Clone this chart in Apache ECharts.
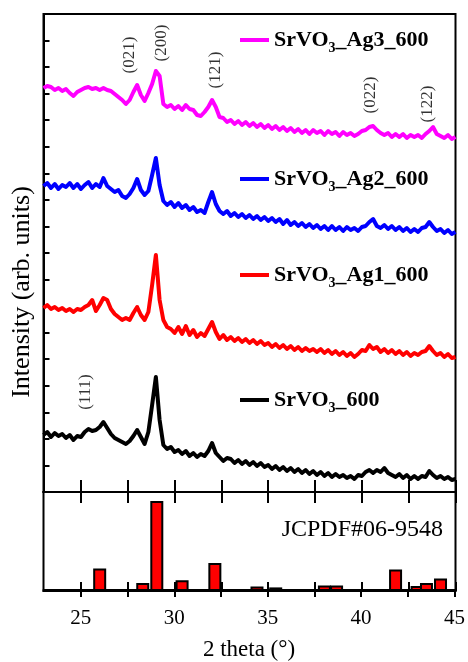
<!DOCTYPE html>
<html>
<head>
<meta charset="utf-8">
<script src="https://cdn.jsdelivr.net/npm/echarts@6/dist/echarts.min.js"></script>
<style>
html, body { margin: 0; padding: 0; background: #fff; }
#xrdChart { width: 468px; height: 662px; }
</style>
</head>
<body>
<div id="xrdChart"></div>
<script>
// 2 theta sampling points (deg)
var theta = [
	23.0, 23.2, 23.4, 23.6, 23.8, 24.0, 24.2, 24.4, 24.6, 24.8,
	25.0, 25.2, 25.4, 25.6, 25.8, 26.0, 26.2, 26.4, 26.6, 26.8,
	27.0, 27.2, 27.4, 27.6, 27.8, 28.0, 28.2, 28.4, 28.6, 28.8,
	29.0, 29.2, 29.4, 29.6, 29.8, 30.0, 30.2, 30.4, 30.6, 30.8,
	31.0, 31.2, 31.4, 31.6, 31.8, 32.0, 32.2, 32.4, 32.6, 32.8,
	33.0, 33.2, 33.4, 33.6, 33.8, 34.0, 34.2, 34.4, 34.6, 34.8,
	35.0, 35.2, 35.4, 35.6, 35.8, 36.0, 36.2, 36.4, 36.6, 36.8,
	37.0, 37.2, 37.4, 37.6, 37.8, 38.0, 38.2, 38.4, 38.6, 38.8,
	39.0, 39.2, 39.4, 39.6, 39.8, 40.0, 40.2, 40.4, 40.6, 40.8,
	41.0, 41.2, 41.4, 41.6, 41.8, 42.0, 42.2, 42.4, 42.6, 42.8,
	43.0, 43.2, 43.4, 43.6, 43.8, 44.0, 44.2, 44.4, 44.6, 44.8, 45.0
];
// offset intensities (arb. units)
var srvo600 = [
	57, 60, 55, 59, 56, 58, 54, 57, 52, 56,
	55, 60, 63, 61, 62, 65, 70, 64, 58, 54,
	52, 50, 48, 51, 56, 62, 55, 48, 60, 87,
	115, 72, 47, 43, 45, 40, 42, 38, 41, 36,
	39, 35, 38, 36, 41, 49, 39, 35, 31, 34,
	33, 29, 32, 28, 31, 27, 30, 26, 29, 25,
	27, 23, 26, 22, 25, 21, 24, 20, 23, 19,
	22, 18, 21, 17, 20, 16, 19, 15, 18, 15,
	17, 14, 16, 13, 17, 16, 20, 22, 19, 22,
	20, 24, 19, 17, 15, 18, 14, 17, 13, 16,
	13, 16, 15, 21, 17, 14, 16, 13, 15, 12, 13
];
var srvoAg1 = [
	184, 187, 183, 185, 182, 184, 181, 183, 180, 183,
	182, 185, 187, 192, 181, 187, 194, 192, 183, 178,
	175, 172, 174, 172, 179, 185, 177, 172, 180, 207,
	237, 192, 172, 165, 163, 159, 165, 158, 166, 157,
	162, 155, 159, 156, 163, 170, 160, 153, 157, 152,
	155, 151, 154, 150, 153, 149, 152, 148, 151, 147,
	149, 145, 148, 144, 147, 143, 146, 142, 145, 141,
	144, 141, 143, 140, 143, 139, 142, 138, 141, 137,
	140, 136, 139, 135, 138, 142, 141, 147, 143, 145,
	140, 143, 139, 142, 138, 141, 137, 140, 136, 139,
	137, 140, 141, 146, 141, 137, 139, 135, 138, 134, 135
];
var srvoAg2 = [
	306, 309, 304, 308, 303, 307, 305, 309, 304, 308,
	303, 307, 310, 304, 308, 305, 314, 306, 303, 300,
	302, 296, 294, 298, 304, 313, 302, 297, 301, 317,
	334, 307, 291, 287, 290, 285, 289, 284, 287, 282,
	285, 280, 282, 279, 290, 300, 288, 281, 278, 281,
	276, 279, 275, 278, 274, 277, 273, 276, 272, 275,
	271, 274, 270, 273, 268, 272, 267, 270, 266, 269,
	265, 268, 264, 267, 263, 266, 262, 266, 262, 265,
	261, 265, 262, 264, 261, 265, 266, 270, 273, 266,
	264, 267, 263, 266, 262, 265, 261, 264, 260, 263,
	260, 264, 265, 270, 265, 261, 263, 259, 262, 258, 260
];
var srvoAg3 = [
	404, 406, 405, 402, 404, 401, 403, 399, 396, 400,
	402, 404, 405, 403, 404, 402, 404, 402, 401, 398,
	395, 392, 388, 392, 400, 407, 397, 391, 399, 408,
	421, 416, 388, 385, 387, 383, 386, 382, 387, 383,
	382, 377, 376, 380, 385, 392, 385, 375, 374, 370,
	372, 368, 371, 367, 370, 366, 369, 365, 368, 364,
	367, 363, 366, 362, 365, 361, 364, 360, 363, 359,
	362, 358, 362, 359, 361, 357, 361, 358, 360, 356,
	360, 357, 359, 356, 358, 361, 362, 365, 366, 362,
	359, 357, 359, 355, 358, 355, 358, 354, 357, 355,
	357, 354, 358, 361, 365, 358, 356, 354, 357, 353, 355
];
var seriesNames = ['SrVO3_Ag3_600', 'SrVO3_Ag2_600', 'SrVO3_Ag1_600', 'SrVO3_600'];
var seriesColors = ['#ff00ff', '#0000ff', '#ff0000', '#000000'];
var seriesValues = [srvoAg3, srvoAg2, srvoAg1, srvo600];
// reflection labels
var hklText = ['(021)', '(200)', '(121)', '(022)', '(122)', '(111)'];
var hklTheta = [27.62, 29.31, 32.16, 40.47, 43.49, 25.22];
var hklLevel = [437, 449, 422, 397, 388, 100];
// JCPDF#06-9548 reference lines
var refTheta = [26.0, 28.3, 29.05, 30.4, 32.15, 33.5, 34.4, 35.4, 35.9, 38.0, 38.65, 40.65, 41.8, 42.95, 43.45, 44.2, 44.7];
var refInt = [25, 9, 100, 12, 31, 1, 5, 4, 1.5, 6, 6, 1, 24, 5.5, 9, 14, 2];
// x axis ticks / labels
var xTicks = [25, 27.5, 30, 32.5, 35, 37.5, 40, 42.5, 45];
var xLabels = [25, 30, 35, 40, 45];

var FONT = 'Liberation Serif';
var myChart;

chartInit();
chartSetting();

function chartInit() {
	myChart = echarts.init(document.getElementById('xrdChart'));
}

function pairs(xs, ys) {
	var out = [];
	for (var i = 0; i < xs.length; i++) {
		out.push([xs[i], ys[i]]);
	}
	return out;
}

function xAxisBase(grid, pos, tickLen, inside) {
	return {
		type: 'value',
		gridIndex: grid,
		position: pos,
		min: 23,
		max: 45,
		splitLine: { show: false },
		axisLine: { show: true, onZero: false, lineStyle: { color: '#000', width: 2 } },
		axisTick: { show: true, inside: inside, length: tickLen, customValues: xTicks, lineStyle: { color: '#000', width: 2 } },
		axisLabel: { show: false }
	};
}

function chartSetting() {
	var series = [];
	for (var i = 0; i < seriesNames.length; i++) {
		series.push({
			name: seriesNames[i],
			type: 'line',
			xAxisIndex: 0,
			yAxisIndex: 0,
			symbol: 'none',
			color: seriesColors[i],
			lineStyle: { width: 4, color: seriesColors[i], join: 'round' },
			data: pairs(theta, seriesValues[i])
		});
	}
	// hkl labels
	var hklData = [];
	for (var i = 0; i < hklText.length; i++) {
		hklData.push([hklTheta[i], hklLevel[i], hklText[i]]);
	}
	series.push({
		type: 'scatter',
		xAxisIndex: 0,
		yAxisIndex: 0,
		symbolSize: 1,
		silent: true,
		itemStyle: { color: 'rgba(0,0,0,0)' },
		label: {
			show: true,
			position: 'inside',
			rotate: 90,
			fontFamily: FONT,
			fontSize: 17,
			color: '#000',
			formatter: function(p) { return p.data[2]; }
		},
		data: hklData
	});
	// reference pattern
	series.push({
		type: 'bar',
		xAxisIndex: 2,
		yAxisIndex: 1,
		barWidth: 13,
		itemStyle: { color: '#ff0000', borderColor: '#000', borderWidth: 2 },
		data: pairs(refTheta, refInt)
	});

	var legendTops = [29, 168, 264, 389];
	var legends = [];
	for (var i = 0; i < seriesNames.length; i++) {
		legends.push({
			data: [seriesNames[i]],
			left: 240,
			top: legendTops[i],
			padding: 0,
			icon: 'rect',
			itemWidth: 29,
			itemHeight: 4,
			selectedMode: false,
			formatter: function(name) {
				return '{b|SrVO}{s|3}{b|' + name.slice(5) + '}';
			},
			textStyle: {
				rich: {
					b: { fontFamily: FONT, fontWeight: 'bold', fontSize: 22, lineHeight: 30, color: '#000' },
					s: { fontFamily: FONT, fontWeight: 'bold', fontSize: 14, lineHeight: 14, verticalAlign: 'bottom', color: '#000' }
				}
			}
		});
	}

	var bottomAxis = xAxisBase(2, 'bottom', 7, false);
	bottomAxis.axisLabel = {
		show: true,
		margin: 18,
		fontFamily: FONT,
		fontSize: 21,
		color: '#000',
		customValues: xLabels
	};
	bottomAxis.name = '2 theta (\u00b0)';
	bottomAxis.nameLocation = 'middle';
	bottomAxis.nameGap = 48;
	bottomAxis.nameTextStyle = { fontFamily: FONT, fontSize: 23, color: '#000' };

	var option = {
		animation: false,
		backgroundColor: '#fff',
		grid: [
			{ left: 43.5, right: 12.5, top: 14, height: 478, show: true, borderColor: '#000', borderWidth: 2, backgroundColor: 'transparent' },
			{ left: 43.5, right: 12.5, top: 492, height: 99, show: true, borderColor: '#000', borderWidth: 2, backgroundColor: 'transparent' },
			{ left: 43.5, right: 12.5, top: 492, height: 99, show: false }
		],
		legend: legends,
		xAxis: [
			xAxisBase(0, 'bottom', 12, true),
			xAxisBase(1, 'top', 11, true),
			xAxisBase(1, 'bottom', 9, true),
			bottomAxis
		],
		yAxis: [
			{
				type: 'value',
				gridIndex: 0,
				min: 0,
				max: 478,
				interval: 478 / 18,
				splitLine: { show: false },
				axisLine: { show: true, lineStyle: { color: '#000', width: 2 } },
				axisTick: { show: true, inside: true, length: 6, lineStyle: { color: '#000', width: 2 } },
				axisLabel: { show: false }
			},
			{ type: 'value', gridIndex: 1, min: 0, max: 110, show: false },
			{ type: 'value', gridIndex: 2, min: 0, max: 110, show: false }
		],
		graphic: [
			{
				type: 'text',
				x: 22,
				y: 292,
				rotation: Math.PI / 2,
				style: { text: 'Intensity (arb. units)', fontFamily: FONT, fontSize: 26, fill: '#000', align: 'center', verticalAlign: 'middle' }
			},
			{
				type: 'text',
				x: 443,
				y: 530,
				style: { text: 'JCPDF#06-9548', fontFamily: FONT, fontSize: 24, fill: '#000', align: 'right', verticalAlign: 'middle' }
			}
		],
		series: series
	};
	myChart.setOption(option);
	window.onresize = myChart.resize;
}
</script>
</body>
</html>
